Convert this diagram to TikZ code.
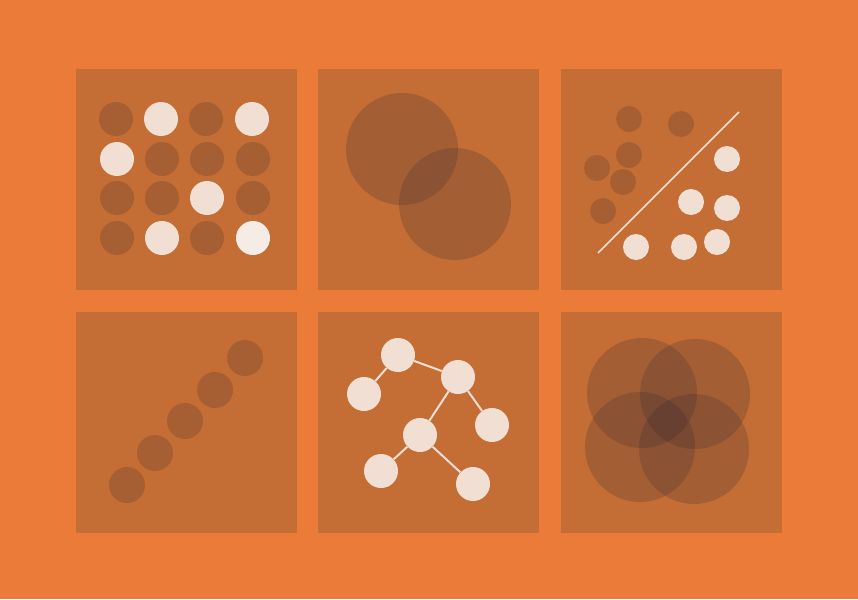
\documentclass[tikz,border=0pt]{standalone}
\definecolor{bgorange}{RGB}{234,123,56}
\definecolor{panel}{RGB}{196,110,53}
\definecolor{darkdot}{RGB}{166,95,50}
\definecolor{lightdot}{RGB}{242,223,212}
\definecolor{whitedot}{RGB}{246,236,230}
\definecolor{shade}{RGB}{52,40,50}
\tikzset{
  panelbox/.style={fill=panel, draw=none},
  dk/.style={circle, fill=darkdot, draw=none, inner sep=0pt, minimum size=#1},
  lt/.style={circle, fill=lightdot, draw=none, inner sep=0pt, minimum size=#1},
  ov/.style={circle, fill=shade, fill opacity=0.22, draw=none, inner sep=0pt, minimum size=#1},
  edge/.style={draw=lightdot, line width=2pt},
}
\begin{document}
\begin{tikzpicture}[x=1pt,y=-1pt]
\fill[bgorange] (0,0) rectangle (858,599);
\useasboundingbox (0,0) rectangle (858,599);
% panels
\fill[panelbox] (76,69) rectangle (297,290);
\fill[panelbox] (318,69) rectangle (539,290);
\fill[panelbox] (561,69) rectangle (782,290);
\fill[panelbox] (76,312) rectangle (297,533);
\fill[panelbox] (318,312) rectangle (539,533);
\fill[panelbox] (561,312) rectangle (782,533);
% panel 1: grid
\node[dk=34pt] (g11) at (116,119) {};
\node[lt=34pt] (g12) at (161,119) {};
\node[dk=34pt] (g13) at (206,119) {};
\node[lt=34pt] (g14) at (252,119) {};
\node[lt=34pt] (g21) at (117,159) {};
\node[dk=34pt] (g22) at (162,159) {};
\node[dk=34pt] (g23) at (207,159) {};
\node[dk=34pt] (g24) at (253,159) {};
\node[dk=34pt] (g31) at (117,198) {};
\node[dk=34pt] (g32) at (162,198) {};
\node[lt=34pt] (g33) at (207,198) {};
\node[dk=34pt] (g34) at (253,198) {};
\node[dk=34pt] (g41) at (117,238) {};
\node[lt=34pt] (g42) at (162,238) {};
\node[dk=34pt] (g43) at (207,238) {};
\node[circle, fill=whitedot, inner sep=0pt, minimum size=34pt] (g44) at (253,238) {};
% panel 2: two overlapping circles
\node[ov=112pt] (v1) at (402,149) {};
\node[ov=112pt] (v2) at (455,204) {};
% panel 3: classification
\node[dk=26pt] (c1) at (629,119) {};
\node[dk=26pt] (c2) at (681,124) {};
\node[dk=26pt] (c3) at (629,155) {};
\node[dk=26pt] (c4) at (597,168) {};
\node[dk=26pt] (c5) at (623,182) {};
\node[dk=26pt] (c6) at (603,211) {};
\node[lt=26pt] (w1) at (727,159) {};
\node[lt=26pt] (w2) at (691,202) {};
\node[lt=26pt] (w3) at (727,208) {};
\node[lt=26pt] (w4) at (636,247) {};
\node[lt=26pt] (w5) at (684,247) {};
\node[lt=26pt] (w6) at (717,242) {};
\coordinate (s1) at (598,253);
\coordinate (s2) at (739,112);
\draw[draw=lightdot, line width=1.5pt] (s1) -- (s2);
% panel 4: diagonal
\node[dk=36pt] (d1) at (245,358) {};
\node[dk=36pt] (d2) at (215,390) {};
\node[dk=36pt] (d3) at (185,421) {};
\node[dk=36pt] (d4) at (155,453) {};
\node[dk=36pt] (d5) at (127,485) {};
% panel 5: tree
\node[lt=34pt] (t1) at (398,355) {};
\node[lt=34pt] (t2) at (364,394) {};
\node[lt=34pt] (t3) at (458,377) {};
\node[lt=34pt] (t4) at (492,425) {};
\node[lt=34pt] (t5) at (420,435) {};
\node[lt=34pt] (t6) at (381,471) {};
\node[lt=34pt] (t7) at (473,484) {};
\draw[edge] (t1) -- (t2);
\draw[edge] (t1) -- (t3);
\draw[edge] (t3) -- (t4);
\draw[edge] (t3) -- (t5);
\draw[edge] (t5) -- (t6);
\draw[edge] (t5) -- (t7);
% panel 6: four overlapping circles
\node[ov=110pt] (q1) at (642,393) {};
\node[ov=110pt] (q2) at (695,394) {};
\node[ov=110pt] (q3) at (640,447) {};
\node[ov=110pt] (q4) at (694,449) {};
\end{tikzpicture}
\end{document}
